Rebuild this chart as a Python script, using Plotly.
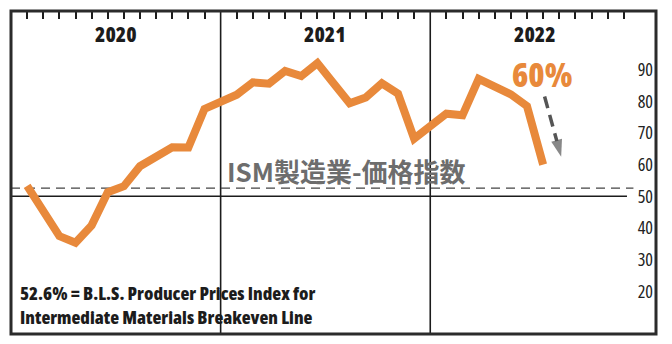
import plotly.graph_objects as go

# ISM Manufacturing Prices Index, monthly
months = [
    "2020-01", "2020-02", "2020-03", "2020-04", "2020-05", "2020-06",
    "2020-07", "2020-08", "2020-09", "2020-10", "2020-11", "2020-12",
    "2021-01", "2021-02", "2021-03", "2021-04", "2021-05", "2021-06",
    "2021-07", "2021-08", "2021-09", "2021-10", "2021-11", "2021-12",
    "2022-01", "2022-02", "2022-03", "2022-04", "2022-05", "2022-06",
    "2022-07",
]
prices = [
    53.3, 45.9, 37.4, 35.3, 40.8, 51.3, 53.2, 59.5, 62.8, 65.5, 65.4, 77.6,
    82.1, 86.0, 85.6, 89.6, 88.0, 92.1, 85.7, 79.4, 81.2, 85.7, 82.4, 68.2,
    76.1, 75.6, 87.1, 84.6, 82.2, 78.5, 60.0,
]
years = [2020, 2021, 2022]
y_ticks = [20, 30, 40, 50, 60, 70, 80, 90]
breakeven = 52.6
expansion_line = 50
latest_label = "60%"
title_text = "ISM製造業-価格指数"
note_lines = [
    "52.6% = B.L.S. Producer Prices Index for",
    "Intermediate Materials Breakeven Line",
]

# Each year takes 13 slots: 12 months plus one spacer where the year divider sits
SLOTS_PER_YEAR = 13
BASE_YEAR = years[0]


def slot_of(label):
    y, m = label.split("-")
    return SLOTS_PER_YEAR * (int(y) - BASE_YEAR) + int(m) - 1


x_pos = [slot_of(m) for m in months]
tick_slots = [SLOTS_PER_YEAR * i + m for i in range(len(years)) for m in range(12)]
divider_slots = [SLOTS_PER_YEAR * i + 12 for i in range(len(years) - 1)]

ORANGE = "#E8893B"
INK = "#1c1c1c"
SANS = "Open Sans, Roboto Condensed, sans-serif"


def narrow(text):
    """Wrap text so it renders in the condensed width of the font."""
    return f'<span style="font-stretch:condensed">{text}</span>'


W, H = 672, 344
M_L, M_R, M_T, M_B = 11, 16, 11, 10
X_RANGE = [-1, 39]
Y_RANGE = [6.47, 108.55]


def paper_x(px):
    return (px - M_L) / (W - M_L - M_R)


def paper_y(py):
    return (H - M_B - py) / (H - M_T - M_B)


fig = go.Figure()

fig.add_trace(go.Scatter(
    x=x_pos, y=prices, mode="lines",
    line=dict(color=ORANGE, width=8),
    hoverinfo="skip", showlegend=False,
))

# dashed arrow pointing at the latest reading
fig.add_trace(go.Scatter(
    x=[32.09, 33.12], y=[81.5, 62.5], mode="lines+markers",
    line=dict(color="#555555", width=3.5, dash="12px,7px"),
    marker=dict(symbol="arrow", size=[0, 18], color="#555555",
                angleref="previous", line=dict(width=0)),
    hoverinfo="skip", showlegend=False,
))

shapes = []
for s in divider_slots:
    shapes.append(dict(type="line", xref="x", yref="paper", x0=s, x1=s, y0=0, y1=1,
                       line=dict(color=INK, width=1.6), layer="below"))
shapes.append(dict(type="line", xref="x", yref="y", x0=-1, x1=37.2,
                   y0=expansion_line, y1=expansion_line,
                   line=dict(color=INK, width=1.6), layer="below"))
shapes.append(dict(type="line", xref="x", yref="y", x0=-1, x1=37.6,
                   y0=breakeven, y1=breakeven,
                   line=dict(color="#444444", width=1.2, dash="9px,6px"), layer="below"))
shapes.append(dict(type="rect", xref="paper", yref="paper", x0=0, x1=1, y0=0, y1=1,
                   line=dict(color="#2b2b2b", width=3)))

annotations = []
for i, yr in enumerate(years):
    annotations.append(dict(
        x=SLOTS_PER_YEAR * i + 5.5, xref="x", y=paper_y(33.5), yref="paper",
        text=narrow(str(yr)), showarrow=False, xanchor="center", yanchor="middle",
        font=dict(family=SANS, size=21, color=INK, weight=800),
    ))
annotations.append(dict(
    x=paper_x(541.5), xref="paper", y=paper_y(74), yref="paper",
    text=narrow(latest_label), showarrow=False, xanchor="center", yanchor="middle",
    font=dict(family=SANS, size=33, color=ORANGE, weight=800),
))
annotations.append(dict(
    x=paper_x(225), xref="paper", y=paper_y(170), yref="paper",
    text=title_text, showarrow=False, xanchor="left", yanchor="middle",
    font=dict(family="Noto Sans CJK JP, Noto Sans, sans-serif", size=26,
              color="#6d6d6d", weight=700),
))
annotations.append(dict(
    x=paper_x(18), xref="paper", y=paper_y(304), yref="paper",
    text="<br>".join(narrow(t) for t in note_lines), showarrow=False,
    xanchor="left", yanchor="middle", align="left",
    font=dict(family=SANS, size=18.3, color=INK, weight=800),
))

fig.update_layout(
    width=W, height=H,
    margin=dict(l=M_L, r=M_R, t=M_T, b=M_B, pad=0),
    paper_bgcolor="white", plot_bgcolor="white",
    showlegend=False,
    shapes=shapes, annotations=annotations,
    xaxis=dict(
        range=X_RANGE, side="top", showgrid=False, zeroline=False, showline=False,
        tickvals=tick_slots, ticks="inside", ticklen=8, tickwidth=1.6, tickcolor=INK,
        showticklabels=False, fixedrange=True,
    ),
    yaxis=dict(
        range=Y_RANGE, side="right", showgrid=False, zeroline=False, showline=False,
        tickvals=y_ticks, ticktext=[narrow(str(v)) for v in y_ticks],
        ticks="", ticklabelposition="inside",
        tickfont=dict(family=SANS, size=18, color="#222222"),
        fixedrange=True,
    ),
)

fig.write_html("out.html")
